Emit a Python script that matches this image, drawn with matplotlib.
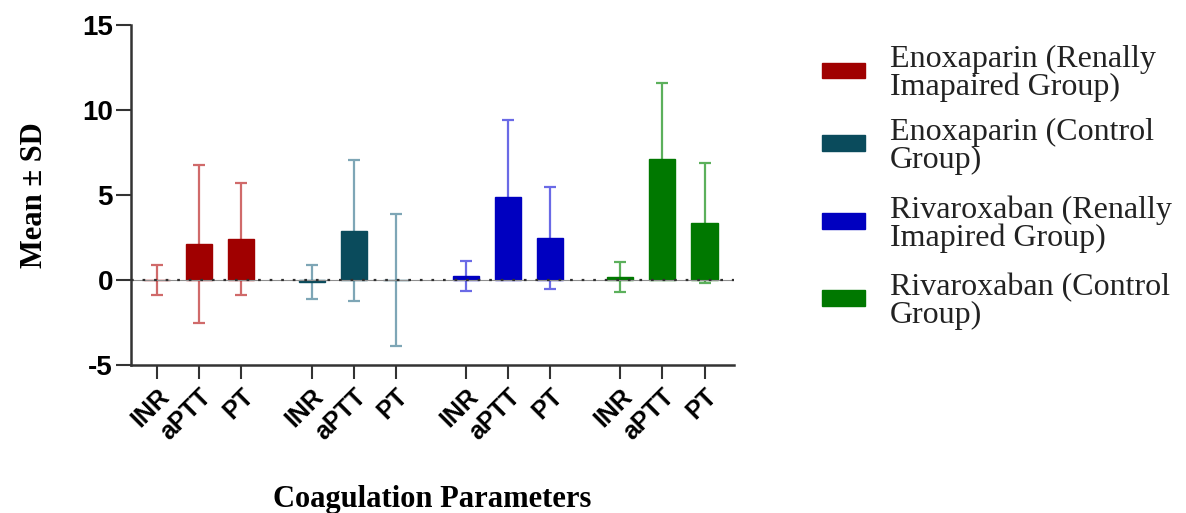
import numpy as np
import matplotlib
matplotlib.use('Agg')
import matplotlib.pyplot as plt
from matplotlib.patches import Rectangle

# data
groups = ["Enoxaparin (Renally\nImapaired Group)",
          "Enoxaparin (Control\nGroup)",
          "Rivaroxaban (Renally\nImapired Group)",
          "Rivaroxaban (Control\nGroup)"]
params = ["INR", "aPTT", "PT"]
enox_renal_mean = [0.0, 2.1, 2.4]
enox_renal_sd = [0.9, 4.65, 3.3]
enox_ctrl_mean = [-0.12, 2.9, 0.0]
enox_ctrl_sd = [0.98, 4.15, 3.9]
riva_renal_mean = [0.25, 4.9, 2.45]
riva_renal_sd = [0.88, 4.5, 3.0]
riva_ctrl_mean = [0.2, 7.1, 3.35]
riva_ctrl_sd = [0.88, 4.5, 3.5]

means = [enox_renal_mean, enox_ctrl_mean, riva_renal_mean, riva_ctrl_mean]
sds = [enox_renal_sd, enox_ctrl_sd, riva_renal_sd, riva_ctrl_sd]
bar_colors = ["#a00000", "#0a4b5c", "#0000c0", "#007800"]
err_colors = ["#d06a6a", "#7ea6b6", "#6a6ae6", "#5cb05c"]

group_step = 3.67
bar_w = 0.62

fig = plt.figure(figsize=(11.86, 5.13), dpi=100)
ax = fig.add_axes([0.1105, 0.2885, 0.508, 0.663])

tick_pos = []
tick_lab = []
for g in range(len(groups)):
    x = g * group_step + np.arange(len(params))
    ax.errorbar(x, means[g], yerr=sds[g], fmt='none', ecolor=err_colors[g],
                elinewidth=1.6, capsize=4.5, capthick=1.6, zorder=2)
    ax.bar(x, means[g], width=bar_w, color=bar_colors[g],
           edgecolor=bar_colors[g], linewidth=1.0, zorder=3)
    tick_pos.extend(x)
    tick_lab.extend(params)

# dotted zero line
ax.axhline(0, color="#909090", linewidth=0.8, zorder=4)
ax.axhline(0, color="#303030", linewidth=1.6, linestyle=(0, (1.2, 4)), zorder=4)

ax.set_xlim(-0.62, 13.7)
ax.set_ylim(-5, 15)
ax.set_yticks([-5, 0, 5, 10, 15])
ax.set_yticklabels(["-5", "0", "5", "10", "15"], fontsize=20,
                   fontweight='bold', family='Liberation Sans')
ax.set_xticks(tick_pos)
ax.set_xticklabels(tick_lab, rotation=45, ha='right', rotation_mode='anchor',
                   fontsize=18, fontweight='bold', family='Liberation Sans')

for s in ['top', 'right']:
    ax.spines[s].set_visible(False)
for s in ['left', 'bottom']:
    ax.spines[s].set_linewidth(1.8)
    ax.spines[s].set_color("#333333")
ax.tick_params(axis='y', length=11, width=1.5, color="#333333", pad=2)
ax.tick_params(axis='x', length=10, width=1.5, color="#333333", pad=4)

ax.set_ylabel("Mean ± SD", family='Liberation Serif', fontweight='bold',
              fontsize=22, labelpad=24)
fig.text(0.364, 0.012, "Coagulation Parameters", family='Liberation Serif',
         fontweight='bold', fontsize=22, ha='center', va='baseline')

# legend, drawn by hand to match the tight two-line entries
leg_y = [0.863, 0.721, 0.569, 0.419]
for c, lab, y in zip(bar_colors, groups, leg_y):
    fig.patches.append(Rectangle((0.693, y - 0.015), 0.036, 0.03,
                                 transform=fig.transFigure, facecolor=c,
                                 edgecolor=c))
    fig.text(0.750, y - 0.006, lab, family='Liberation Serif', fontsize=23,
             va='center', ha='left', linespacing=0.95, color="#222222")

fig.savefig("out.png", dpi=100)
